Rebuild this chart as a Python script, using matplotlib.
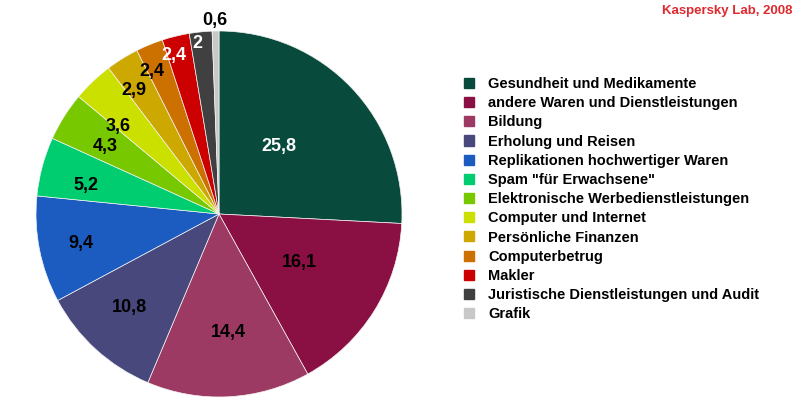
import matplotlib.pyplot as plt
import matplotlib.patches as mpatches
import numpy as np

plt.rcParams['font.family'] = ['Liberation Sans', 'DejaVu Sans']

categories = ["Gesundheit und Medikamente",
              "andere Waren und Dienstleistungen",
              "Bildung",
              "Erholung und Reisen",
              "Replikationen hochwertiger Waren",
              "Spam \"für Erwachsene\"",
              "Elektronische Werbedienstleistungen",
              "Computer und Internet",
              "Persönliche Finanzen",
              "Computerbetrug",
              "Makler",
              "Juristische Dienstleistungen und Audit",
              "Grafik"]
values = [25.8, 16.1, 14.4, 10.8, 9.4, 5.2, 4.3, 3.6, 2.9, 2.4, 2.4, 2, 0.6]
value_labels = ["25,8", "16,1", "14,4", "10,8", "9,4", "5,2", "4,3", "3,6",
                "2,9", "2,4", "2,4", "2", "0,6"]

colors = ["#084b3d", "#8a0f42", "#9c3a63", "#48487c", "#1c5cc0", "#00cc70",
          "#78c800", "#cce000", "#cca800", "#cc7000", "#cc0000", "#404040",
          "#c8c8c8"]
# label placement: distance from centre (fraction of radius), angle nudge (deg)
label_r = [0.50, 0.51, 0.64, 0.70, 0.77, 0.745, 0.73, 0.74, 0.83, 0.875, 0.91, 0.95, 1.07]
label_da = [6, 2, 1.5, -2, 0, 2, 0.7, 4.7, 2.2, 2.6, 2, 1.5, 0]
label_c = ["white", "black", "black", "black", "black", "black", "black", "black",
           "black", "black", "white", "white", "black"]

fig = plt.figure(figsize=(8, 4), dpi=100)
ax = fig.add_axes([36 / 800, 3 / 400, 366 / 800, 366 / 400])

wedges, _ = ax.pie(values, colors=colors, startangle=90, counterclock=False,
                   radius=1, wedgeprops=dict(edgecolor="#f4f4f4", linewidth=0.5))
ax.set_xlim(-1, 1)
ax.set_ylim(-1, 1)
ax.set_aspect("equal")
ax.axis("off")

for w, txt, r, da, c in zip(wedges, value_labels, label_r, label_da, label_c):
    ang = np.deg2rad((w.theta1 + w.theta2) / 2 + da)
    ax.text(r * np.cos(ang), r * np.sin(ang) - 0.012, txt, ha="center", va="center",
            fontsize=13, fontweight="bold", color=c, clip_on=False)

handles = [mpatches.Patch(facecolor=col, edgecolor=col) for col in colors]
fig.legend(handles, categories, loc="upper left",
           bbox_to_anchor=(464 / 800, 1 - 77 / 400), frameon=False,
           prop=dict(size=10.5, weight="bold"), handlelength=0.69,
           handleheight=0.69, handletextpad=0.96, labelspacing=0.356,
           borderpad=0, borderaxespad=0)

fig.text(792 / 800, 1 - 11 / 400, "Kaspersky Lab, 2008", ha="right", va="center",
         color="#dd2a30", fontsize=9.5, fontweight="bold")

fig.savefig("out.png", dpi=100, facecolor="white")
